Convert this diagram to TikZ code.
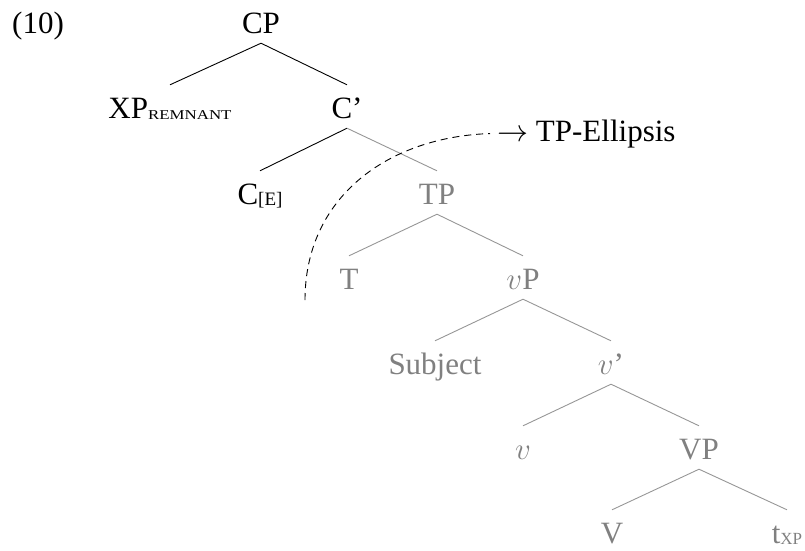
\RequirePackage{fix-cm}
\documentclass[tikz,border=0pt]{standalone}
\usepackage{fontspec}
\setmainfont{Liberation Serif}
\definecolor{elltext}{RGB}{128,128,128}
\definecolor{ellline}{RGB}{150,150,150}
% subscripts set a little below the baseline
\newcommand{\lowsub}[2][17]{\raisebox{-1.5pt}{\fontsize{#1}{#1}\selectfont #2}}
\newcommand{\capsub}[1]{\raisebox{-1.5pt}{\scalebox{1.25}[1]{\fontsize{13.5}{14}\selectfont #1}}}
\begin{document}
\begin{tikzpicture}[x=1pt,y=1pt,
  tn/.style={anchor=base, inner xsep=0pt, inner ysep=2pt, text height=31pt, text depth=8pt,
    font=\fontsize{31}{36}\selectfont},
  elided/.style={text=elltext},
  branch/.style={line width=0.9pt, black},
  gbranch/.style={line width=0.9pt, ellline},
  cutline/.style={line width=0.9pt, dashed, dash pattern=on 7pt off 5pt}
]
\useasboundingbox (0,0) rectangle (805,-550);

\node[anchor=base west, inner sep=0pt, font=\fontsize{31}{36}\selectfont] (ex) at (12,-33) {(10)};

% pronounced part of the tree
\node[tn] (cp)  at (261,-33)  {CP};
\node[tn] (xp)  at (170,-118) {XP\capsub{REMNANT}};
\node[tn] (cb)  at (347,-118) {C'};
\node[tn] (ce)  at (260,-204) {C\lowsub[19]{[E]}};

% elided part of the tree
\node[tn,elided] (tp)   at (437,-204) {TP};
\node[tn,elided] (t)    at (349,-289) {T};
\node[tn,elided] (vp)   at (523,-289) {$v$P};
\node[tn,elided] (subj) at (435,-374) {Subject};
\node[tn,elided] (vb)   at (611,-374) {$v$'};
\node[tn,elided] (v)    at (523,-459) {$v$};
\node[tn,elided] (vvp)  at (699,-459) {VP};
\node[tn,elided] (vv)   at (612,-543) {V};
\node[tn,elided] (txp)  at (787,-543) {t\lowsub{XP}};

\draw[branch] (cp.south) -- (xp.north);
\draw[branch] (cp.south) -- (cb.north);
\draw[branch] (cb.south) -- (ce.north);
\draw[gbranch] (cb.south) -- (tp.north);
\draw[gbranch] (tp.south) -- (t.north);
\draw[gbranch] (tp.south) -- (vp.north);
\draw[gbranch] (vp.south) -- (subj.north);
\draw[gbranch] (vp.south) -- (vb.north);
\draw[gbranch] (vb.south) -- (v.north);
\draw[gbranch] (vb.south) -- (vvp.north);
\draw[gbranch] (vvp.south) -- (vv.north);
\draw[gbranch] (vvp.south) -- (txp.north);

% ellipsis boundary
\node[anchor=base west, inner sep=0pt, font=\fontsize{31}{36}\selectfont] (ell) at (497,-141) {$\rightarrow$ TP-Ellipsis};
\coordinate (cut) at (305,-300);
\draw[cutline] (cut) .. controls (305,-197) and (388,-137) .. ([xshift=-7pt]ell.west);
\end{tikzpicture}
\end{document}
